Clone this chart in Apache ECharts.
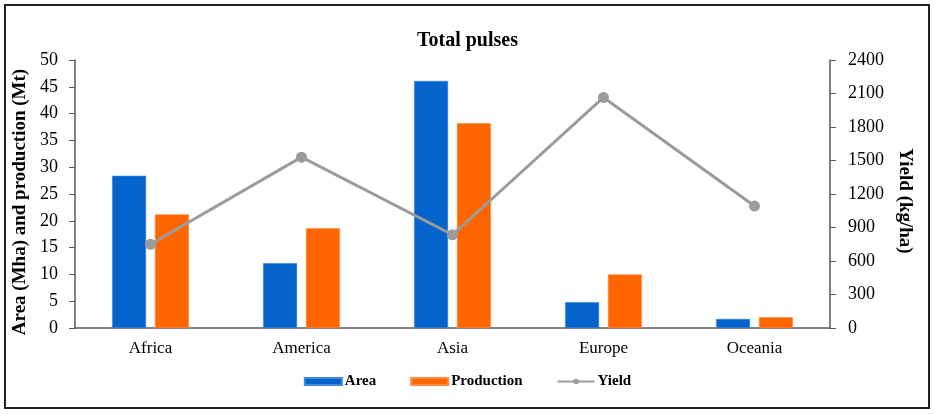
<!DOCTYPE html>
<html>
<head>
<meta charset="utf-8">
<script src="https://cdn.jsdelivr.net/npm/echarts@6/dist/echarts.min.js"></script>
<style>
  html, body { margin: 0; padding: 0; background: #fff; }
  .frame { position: absolute; left: 4px; top: 4px; width: 922px; height: 401px; border: 2px solid #222; }
  .chart { position: absolute; left: 0; top: 0; width: 935px; height: 414px; }
</style>
</head>
<body>
<div class="frame"></div>
<div class="chart"></div>
<script>
var regions = ['Africa', 'America', 'Asia', 'Europe', 'Oceania']
var area = [28.4, 12.1, 46.1, 4.8, 1.7]
var production = [21.2, 18.6, 38.2, 10.0, 2.0]
var yieldKg = [750, 1530, 835, 2065, 1092]

var serif = '"Liberation Serif", "Times New Roman", serif'

;(function() {
  let myChart = echarts.init(document.querySelector('.chart'))
  let option = {
    animation: false,
    textStyle: { fontFamily: serif },
    title: {
      text: 'Total pulses',
      left: 'center',
      top: 26,
      textStyle: { fontFamily: serif, fontSize: 20, fontWeight: 'bold', color: '#000' }
    },
    legend: {
      bottom: 20,
      left: 'center',
      itemWidth: 37,
      itemHeight: 7,
      itemGap: 34,
      textStyle: { fontFamily: serif, fontSize: 15, fontWeight: 'bold', color: '#000', padding: [0, 0, 0, -2] },
      data: [
        { name: 'Area', icon: 'rect' },
        { name: 'Production', icon: 'rect' },
        { name: 'Yield' }
      ]
    },
    grid: {
      left: 75,
      right: 105,
      top: 60,
      bottom: 86,
      containLabel: false
    },
    xAxis: {
      type: 'category',
      data: regions,
      axisTick: { show: false },
      axisLine: { lineStyle: { color: '#595959', width: 1.5 } },
      axisLabel: { color: '#000', fontSize: 17, fontFamily: serif, margin: 12 }
    },
    yAxis: [
      {
        type: 'value',
        min: 0,
        max: 50,
        interval: 5,
        name: 'Area (Mha) and production (Mt)',
        nameLocation: 'middle',
        nameGap: 38,
        nameTextStyle: { fontFamily: serif, fontSize: 19, fontWeight: 'bold', color: '#000', padding: [0, 16, 0, 0] },
        axisLine: { show: true, lineStyle: { color: '#595959', width: 1.5 } },
        axisTick: { show: true, length: 6, lineStyle: { color: '#595959' } },
        axisLabel: { color: '#000', fontSize: 18, fontFamily: serif, margin: 17 },
        splitLine: { show: false }
      },
      {
        type: 'value',
        min: 0,
        max: 2400,
        interval: 300,
        position: 'right',
        name: 'Yield (kg/ha)',
        nameLocation: 'middle',
        nameRotate: -90,
        nameGap: 65,
        nameTextStyle: { fontFamily: serif, fontSize: 19, fontWeight: 'bold', color: '#000', padding: [0, 0, 0, 14] },
        axisLine: { show: true, lineStyle: { color: '#595959', width: 1.5 } },
        axisTick: { show: true, length: 6, lineStyle: { color: '#595959' } },
        axisLabel: {
          color: '#000', fontSize: 18, fontFamily: serif, margin: 18,
          formatter: function(v) { return String(v) }
        },
        splitLine: { show: false }
      }
    ],
    series: [
      {
        name: 'Area',
        type: 'bar',
        yAxisIndex: 0,
        data: area,
        barWidth: 34,
        barGap: '26%',
        itemStyle: { color: '#0563CC', borderColor: '#3d86dd', borderWidth: 0.6 }
      },
      {
        name: 'Production',
        type: 'bar',
        yAxisIndex: 0,
        data: production,
        barWidth: 34,
        barGap: '26%',
        itemStyle: { color: '#FF6600', borderColor: '#ff8a40', borderWidth: 0.6 }
      },
      {
        name: 'Yield',
        type: 'line',
        yAxisIndex: 1,
        data: yieldKg,
        symbol: 'circle',
        symbolSize: 11,
        lineStyle: { color: '#9b9b9b', width: 3 },
        itemStyle: { color: '#9b9b9b' }
      }
    ]
  }
  myChart.setOption(option)
  window.addEventListener('resize', function() {
    myChart.resize()
  })
})()
</script>
</body>
</html>
